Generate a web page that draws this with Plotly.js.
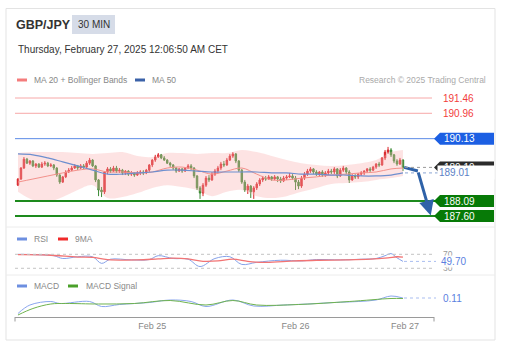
<!DOCTYPE html>
<html><head><meta charset="utf-8">
<script src="https://cdn.plot.ly/plotly-3.0.1.min.js"></script>
<style>html,body{margin:0;padding:0;background:#fff;overflow:hidden}#chart{width:507px;height:361px}</style>
</head><body><div id="chart"></div>
<script>
// ---------- data ----------
const symbol = 'GBP/JPY';
const timeframe = '30 MIN';
const stamp = 'Thursday, February 27, 2025 12:06:50 AM CET';
const credit = 'Research \u00a9 2025 Trading Central';

const open = [
188.61,188.81,189.17,189.46,189.33,189.40,189.24,189.30,189.20,189.30,
189.33,189.24,189.27,189.17,188.94,188.71,188.88,189.04,189.10,189.17,
189.24,189.17,189.24,189.20,189.33,189.43,189.24,188.78,188.45,188.39,
189.04,189.14,189.07,189.17,189.07,189.10,189.01,189.07,188.97,189.01,
188.94,189.01,189.04,189.01,189.10,189.27,189.43,189.53,189.60,189.50,
189.43,189.33,189.27,189.17,189.07,189.14,189.07,189.17,189.24,189.17,
188.91,188.52,188.35,188.61,188.84,188.78,188.97,189.07,189.17,189.30,
189.27,189.43,189.56,189.63,189.40,189.10,188.71,188.45,188.58,188.39,
188.52,188.65,188.78,188.84,188.81,188.88,188.81,188.88,188.81,188.75,
188.84,188.88,188.91,188.84,188.71,188.58,188.84,188.97,189.07,189.14,
189.04,188.97,189.04,188.94,189.01,189.07,189.04,189.14,188.91,189.10,
189.17,189.04,188.78,188.91,188.88,188.97,189.01,189.07,189.14,189.10,
189.20,189.30,189.27,189.50,189.69,189.76,189.60,189.40,189.30,189.43];
const close = [
188.81,189.17,189.46,189.33,189.40,189.24,189.30,189.20,189.30,189.33,
189.24,189.27,189.17,188.94,188.71,188.88,189.04,189.10,189.17,189.24,
189.17,189.24,189.20,189.33,189.43,189.24,188.78,188.45,188.39,189.04,
189.14,189.07,189.17,189.07,189.10,189.01,189.07,188.97,189.01,188.94,
189.01,189.04,189.01,189.10,189.27,189.43,189.53,189.60,189.50,189.43,
189.33,189.27,189.17,189.07,189.14,189.07,189.17,189.24,189.17,188.91,
188.52,188.35,188.61,188.84,188.78,188.97,189.07,189.17,189.30,189.27,
189.43,189.56,189.63,189.40,189.10,188.71,188.45,188.58,188.39,188.52,
188.65,188.78,188.84,188.81,188.88,188.81,188.88,188.81,188.75,188.84,
188.88,188.91,188.84,188.71,188.58,188.84,188.97,189.07,189.14,189.04,
188.97,189.04,188.94,189.01,189.07,189.04,189.14,188.91,189.10,189.17,
189.04,188.78,188.91,188.88,188.97,189.01,189.07,189.14,189.10,189.20,
189.30,189.27,189.50,189.69,189.76,189.60,189.40,189.30,189.43,189.19];
const high = [
188.84,189.20,189.53,189.50,189.43,189.43,189.33,189.33,189.37,189.40,
189.37,189.33,189.30,189.20,188.97,188.91,189.10,189.17,189.24,189.30,
189.27,189.30,189.30,189.40,189.50,189.46,189.27,188.81,188.55,189.07,
189.20,189.20,189.24,189.24,189.17,189.14,189.10,189.10,189.07,189.04,
189.07,189.10,189.10,189.14,189.30,189.46,189.60,189.66,189.63,189.56,
189.46,189.37,189.30,189.20,189.17,189.17,189.20,189.30,189.30,189.20,
188.94,188.58,188.68,188.91,188.94,189.04,189.14,189.24,189.37,189.40,
189.50,189.63,189.69,189.66,189.43,189.14,188.78,188.65,188.61,188.58,
188.71,188.84,188.91,188.91,188.94,188.91,188.94,188.91,188.88,188.91,
188.94,189.01,188.97,188.91,188.78,188.91,189.04,189.14,189.20,189.17,
189.10,189.07,189.10,189.07,189.14,189.14,189.20,189.17,189.17,189.24,
189.20,189.10,188.97,188.97,189.01,189.07,189.10,189.17,189.20,189.24,
189.33,189.37,189.53,189.76,189.86,189.82,189.63,189.46,189.50,189.46];
const low = [
188.58,188.78,189.14,189.30,189.27,189.20,189.17,189.17,189.17,189.24,
189.20,189.20,189.10,188.88,188.65,188.68,188.84,189.01,189.07,189.14,
189.10,189.14,189.14,189.17,189.27,189.20,188.71,188.25,188.22,188.32,
188.97,189.01,189.04,189.01,189.01,188.94,188.94,188.91,188.91,188.88,
188.91,188.94,188.94,188.97,189.04,189.20,189.37,189.50,189.46,189.40,
189.30,189.20,189.10,189.01,189.04,189.01,189.04,189.14,189.10,188.84,
188.45,188.16,188.25,188.55,188.71,188.75,188.91,189.01,189.10,189.20,
189.24,189.40,189.50,189.33,189.04,188.65,188.39,188.32,188.19,188.16,
188.45,188.58,188.71,188.75,188.78,188.75,188.78,188.71,188.68,188.71,
188.78,188.84,188.78,188.45,188.48,188.52,188.78,188.91,189.01,188.97,
188.91,188.91,188.88,188.88,188.94,188.97,188.97,188.84,188.88,189.04,
188.97,188.68,188.75,188.81,188.81,188.91,188.94,189.01,189.04,189.07,
189.14,189.20,189.24,189.43,189.63,189.53,189.33,189.24,189.27,189.07];

const bbIdx   = [0,5,10,15,20,25,30,35,40,45,50,55,60,65,70,75,80,85,90,95,100,105,110,115,120,125,129];
const bbUpper = [189.66,189.69,189.69,189.69,189.66,189.63,189.66,189.69,189.56,189.53,189.66,189.66,189.63,189.66,189.66,189.76,189.69,189.56,189.43,189.33,189.27,189.24,189.27,189.33,189.43,189.69,189.76];
const bbLower = [188.39,188.12,188.06,188.22,188.45,188.61,188.19,188.22,188.35,188.52,188.61,188.55,188.45,188.25,188.39,188.45,188.25,188.19,188.25,188.39,188.52,188.65,188.68,188.71,188.78,188.84,188.91];
const ma20    = [188.71,188.81,188.91,189.01,189.10,189.14,189.04,189.04,189.01,189.04,189.17,189.20,189.10,188.97,189.07,189.17,188.97,188.78,188.78,188.84,188.88,188.94,188.97,189.01,189.04,189.14,189.17];
const ma50    = [189.63,189.60,189.50,189.37,189.24,189.10,188.97,188.97,189.01,189.04,189.10,189.10,189.07,189.04,189.04,189.04,189.04,189.01,189.01,188.97,188.97,188.94,188.94,188.91,188.91,188.94,189.01];

const rsiIdx   = [0,6,12,15,20,25,28,31,38,44,47,52,57,61,66,71,75,80,88,95,100,108,115,120,123,125,127,129];
const rsiVal   = [70,69,66,58,63,63,44,56,54,55,66,58,56,35,58,63,41,47,53,51,55,54,56,58,66,72,60,49.70];
const rsiMaIdx = [0,10,20,25,30,40,47,52,57,62,67,72,77,82,90,100,110,118,124,127,129];
const rsiMaVal = [69,68,62,61,55,54,57,59,57,50,51,56,50,47,50,53,54,56,60,63,62];
const rsiBands = [70,30];

const macdIdx = [0,4,11,14,24,28,34,44,51,58,63,72,79,89,97,106,114,120,125,129];
const macdVal = [-0.20,-0.03,0.04,0.00,0.04,-0.06,-0.02,0.02,0.07,0.04,-0.06,0.07,-0.05,-0.03,-0.01,0.02,0.04,0.07,0.15,0.11];
const sigIdx  = [0,5,11,16,27,39,51,63,72,80,94,111,125,129];
const sigVal  = [-0.23,-0.10,-0.01,0.00,-0.01,0.00,0.06,-0.03,0.06,-0.03,-0.02,0.04,0.10,0.10];

const resistance = [191.46,190.96];
const pivot = 190.13;
const support = [188.09,187.60];
const forecastIdx = [129.4,134.0,138.3];
const forecastPrice = [189.19,189.07,187.62];

const dayLabels = ['Feb 25','Feb 26','Feb 27'];
const dayIdx = [45,93,129.7];

// ---------- layout helpers ----------
const W = 507, H = 361;
const PX = x => x / W, PY = y => 1 - y / H;
const xIdx = open.map((_, i) => i);
const lastI = xIdx[xIdx.length - 1];
const lastPrice = close[close.length - 1];
const ma50Last = ma50[ma50.length - 1];
const rsiLast = rsiVal[rsiVal.length - 1];
const macdLast = macdVal[macdVal.length - 1];

const yMain = [187.306, 191.722];
const upp = (yMain[1] - yMain[0]) / 135; // price per pixel
const FONT = '"Liberation Sans", Arial, sans-serif';

const traces = [
  {x: bbIdx, y: bbUpper, type: 'scatter', mode: 'lines', line: {width: 0, shape: 'spline'}, hoverinfo: 'skip', xaxis: 'x', yaxis: 'y'},
  {x: bbIdx, y: bbLower, type: 'scatter', mode: 'lines', line: {width: 0, shape: 'spline'}, fill: 'tonexty', fillcolor: 'rgba(248,175,175,0.35)', hoverinfo: 'skip', xaxis: 'x', yaxis: 'y'},
  {x: xIdx, open: open, high: high, low: low, close: close, type: 'candlestick', xaxis: 'x', yaxis: 'y',
   increasing: {line: {color: '#d9262b', width: 1}, fillcolor: '#d9262b'},
   decreasing: {line: {color: '#3a8a34', width: 1}, fillcolor: '#3a8a34'}, whiskerwidth: 0},
  {x: bbIdx, y: ma20, type: 'scatter', mode: 'lines', line: {color: '#f3918b', width: 1, shape: 'spline'}, xaxis: 'x', yaxis: 'y'},
  {x: bbIdx, y: ma50, type: 'scatter', mode: 'lines', line: {color: '#6d8fcf', width: 1.2, shape: 'spline'}, xaxis: 'x', yaxis: 'y'},
  {x: forecastIdx.slice(0, 2), y: forecastPrice.slice(0, 2), type: 'scatter', mode: 'lines', line: {color: '#2f62a8', width: 3}, cliponaxis: false, xaxis: 'x', yaxis: 'y'},
  // RSI
  {x: rsiIdx, y: rsiVal, type: 'scatter', mode: 'lines', line: {color: '#86a2ea', width: 1, shape: 'spline'}, xaxis: 'x', yaxis: 'y2'},
  {x: rsiMaIdx, y: rsiMaVal, type: 'scatter', mode: 'lines', line: {color: '#f27474', width: 1.3, shape: 'spline'}, xaxis: 'x', yaxis: 'y2'},
  // MACD
  {x: macdIdx, y: macdVal, type: 'scatter', mode: 'lines', line: {color: '#8aa6ee', width: 1, shape: 'spline'}, xaxis: 'x', yaxis: 'y3'},
  {x: sigIdx, y: sigVal, type: 'scatter', mode: 'lines', line: {color: '#6fb34f', width: 1, shape: 'spline'}, xaxis: 'x', yaxis: 'y3'}
];

const shapes = [];
const annotations = [];
// card + separators
shapes.push({type: 'rect', xref: 'paper', yref: 'paper', x0: PX(6), x1: PX(495), y0: PY(340), y1: PY(8.5), line: {color: '#e3e3e3', width: 1}, layer: 'below'});
[227, 275].forEach(y => shapes.push({type: 'line', xref: 'paper', yref: 'paper', x0: PX(6), x1: PX(495), y0: PY(y), y1: PY(y), line: {color: '#ececec', width: 1}}));
// header
shapes.push({type: 'rect', xref: 'paper', yref: 'paper', x0: PX(72), x1: PX(115), y0: PY(34), y1: PY(15), fillcolor: '#d6dce8', line: {width: 0}});
const ann = (x, y, text, size, color, extra) => Object.assign({xref: 'paper', yref: 'paper', x: PX(x), y: PY(y), text: text, showarrow: false, xanchor: 'left', yanchor: 'middle', font: {family: FONT, size: size, color: color}}, extra || {});
annotations.push(ann(14, 25, '<b>' + symbol + '</b>', 12.5, '#333'));
annotations.push(ann(93.5, 24.5, timeframe, 10, '#333', {xanchor: 'center'}));
annotations.push(ann(16, 49, stamp, 10, '#333'));
// legends
const swatch = (x, y, color) => shapes.push({type: 'rect', xref: 'paper', yref: 'paper', x0: PX(x), x1: PX(x + 10), y0: PY(y + 1.5), y1: PY(y - 1.5), fillcolor: color, line: {width: 0}});
swatch(17, 80, '#f47c7c'); annotations.push(ann(32, 80, 'MA 20 + Bollinger Bands', 8.5, '#888'));
swatch(135, 80, '#3b62a8'); annotations.push(ann(150, 80, 'MA 50', 8.5, '#888'));
annotations.push(ann(488, 80, credit, 8.5, '#aaa', {xanchor: 'right'}));
swatch(17, 239, '#6d8fe0'); annotations.push(ann(32, 239, 'RSI', 8.5, '#888'));
swatch(58, 239, '#f02a2a'); annotations.push(ann(73, 239, '9MA', 8.5, '#888'));
swatch(17, 286, '#6d8fe0'); annotations.push(ann(32, 286, 'MACD', 8.5, '#888'));
swatch(68, 286, '#4aa02a'); annotations.push(ann(84, 286, 'MACD Signal', 8.5, '#888'));

// price levels
const hline = (yref, v, color, width, dash, x0, x1) => shapes.push({type: 'line', xref: 'paper', yref: yref, x0: PX(x0), x1: PX(x1), y0: v, y1: v, line: {color: color, width: width, dash: dash || 'solid'}});
resistance.forEach(v => {
  hline('y', v, '#f7a8a8', 1, 'solid', 15, 432);
  annotations.push({xref: 'paper', yref: 'y', x: PX(441), y: v, text: v.toFixed(2), showarrow: false, xanchor: 'left', yanchor: 'middle', font: {family: FONT, size: 10, color: '#f23b3b'}});
});
hline('y', pivot, '#5b8ae6', 1, 'solid', 15, 436);
support.forEach(v => hline('y', v, '#1d8a1d', 2, 'solid', 15, 436));
hline('y', lastPrice, '#9a9a9a', 1, 'dot', 405, 436);
hline('y', ma50Last, '#8aa4d4', 1, 'dot', 405, 440);

const tag = (v, color) => {
  const h = 6 * upp;
  shapes.push({type: 'path', xref: 'paper', yref: 'y', path: `M ${PX(434)},${v} L ${PX(440)},${v + h} L ${PX(494)},${v + h} L ${PX(494)},${v - h} L ${PX(440)},${v - h} Z`, fillcolor: color, line: {width: 0}});
  annotations.push({xref: 'paper', yref: 'y', x: PX(442), y: v, text: v.toFixed(2), showarrow: false, xanchor: 'left', yanchor: 'middle', font: {family: FONT, size: 10, color: '#fff'}});
};
tag(pivot, '#1c5fe3');
support.forEach(v => tag(v, '#077a07'));
tag(lastPrice, '#2b2b2b');
annotations.push({xref: 'paper', yref: 'y', x: PX(437), y: ma50Last, text: ma50Last.toFixed(2), showarrow: false, xanchor: 'left', yanchor: 'middle', align: 'left', width: 54, bgcolor: '#fff', borderpad: 1, font: {family: FONT, size: 10, color: '#5b7fc6'}});

// forecast arrow
annotations.push({xref: 'x', yref: 'y', axref: 'x', ayref: 'y', x: forecastIdx[2], y: forecastPrice[2], ax: forecastIdx[1], ay: forecastPrice[1], text: '', showarrow: true, arrowhead: 2, arrowsize: 1, arrowwidth: 3, arrowcolor: '#2f62a8', standoff: 0, startstandoff: 0});

// RSI guides
rsiBands.forEach(v => hline('y2', v, '#c4c4c4', 1, 'dot', 15, 434));
hline('y2', rsiLast, '#a9bdf0', 1, 'dot', 404, 436);
annotations.push({xref: 'paper', yref: 'y2', x: PX(441), y: rsiBands[0], text: String(rsiBands[0]), showarrow: false, xanchor: 'left', yanchor: 'middle', font: {family: FONT, size: 8.5, color: '#999'}});
annotations.push({xref: 'paper', yref: 'y2', x: PX(441), y: rsiBands[1], text: String(rsiBands[1]), showarrow: false, xanchor: 'left', yanchor: 'middle', font: {family: FONT, size: 8.5, color: '#999'}});
annotations.push({xref: 'paper', yref: 'y2', x: PX(440), y: rsiLast, text: rsiLast.toFixed(2), showarrow: false, xanchor: 'left', yanchor: 'middle', bgcolor: 'rgba(255,255,255,0.9)', borderpad: 0, font: {family: FONT, size: 10, color: '#5b7fe0'}});
// MACD guide
hline('y3', macdLast, '#a9bdf0', 1, 'dot', 404, 436);
annotations.push({xref: 'paper', yref: 'y3', x: PX(441), y: macdLast, text: macdLast.toFixed(2), showarrow: false, xanchor: 'left', yanchor: 'middle', font: {family: FONT, size: 10, color: '#5b7fe0'}});

// axis end ticks
[15, 434].forEach(x => shapes.push({type: 'line', xref: 'paper', yref: 'paper', x0: PX(x), x1: PX(x), y0: PY(317), y1: PY(321.5), line: {color: '#9a9a9a', width: 1}}));

const hidden = {showgrid: false, zeroline: false, showticklabels: false, showline: false, ticks: '', fixedrange: true};
const layout = {
  width: W, height: H, margin: {l: 0, r: 0, t: 0, b: 0, pad: 0},
  paper_bgcolor: '#fff', plot_bgcolor: 'rgba(0,0,0,0)', showlegend: false,
  font: {family: FONT},
  xaxis: {domain: [PX(15), PX(434)], range: [-1.0, 139.4], anchor: 'y3', showgrid: false, zeroline: false,
          showline: true, linecolor: '#9a9a9a', linewidth: 1, ticks: '', tickmode: 'array', tickvals: dayIdx, ticktext: dayLabels,
          tickfont: {family: FONT, size: 9, color: '#888'}, rangeslider: {visible: false}, fixedrange: true},
  yaxis: Object.assign({domain: [PY(225), PY(90)], range: yMain}, hidden),
  yaxis2: Object.assign({domain: [PY(272), PY(248)], range: [19.4, 88.0]}, hidden),
  yaxis3: Object.assign({domain: [PY(317), PY(292)], range: [-0.27, 0.23]}, hidden),
  shapes: shapes, annotations: annotations
};
Plotly.newPlot('chart', traces, layout, {staticPlot: true, displayModeBar: false});
</script></body></html>
